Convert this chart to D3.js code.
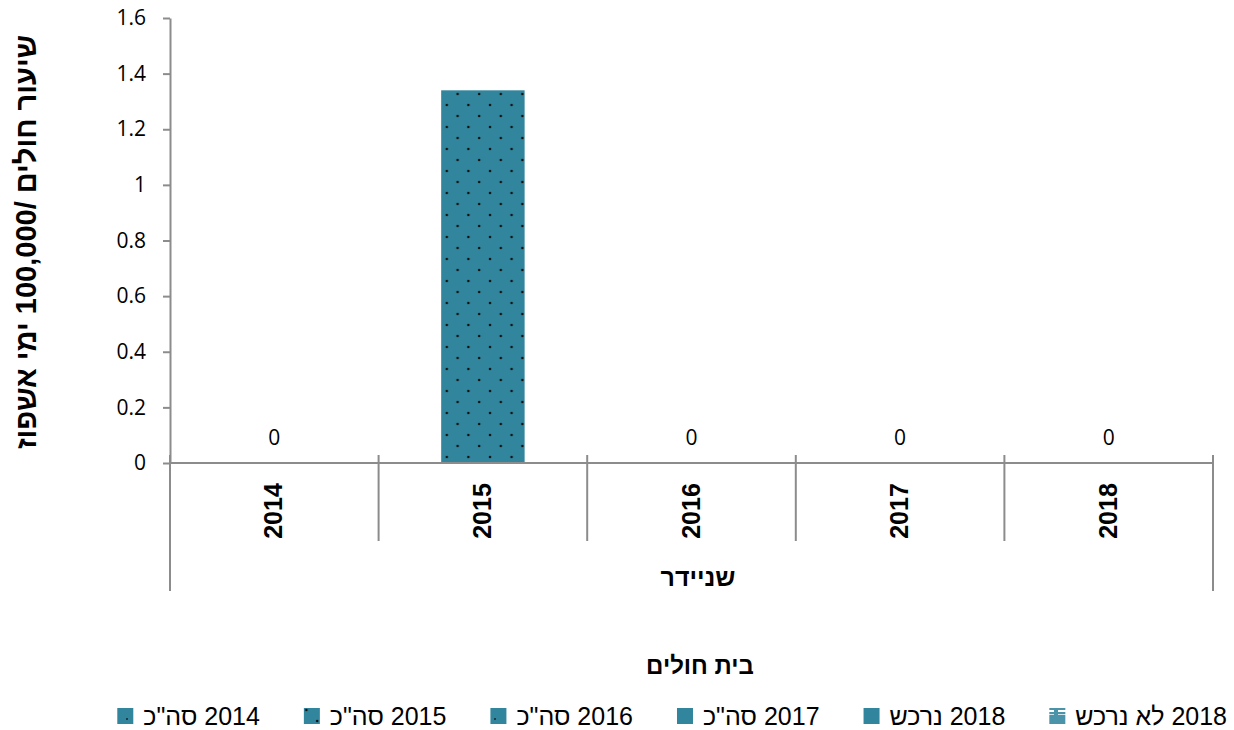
<!DOCTYPE html>
<html>
<head>
<meta charset="utf-8">
<script src="https://cdn.jsdelivr.net/npm/d3@7"></script>
<style>
  body { margin: 0; background: #fff; }
  text { fill: #000; }
</style>
</head>
<body>
<div id="chart"></div>
<script>
const categories = ["2014", "2015", "2016", "2017", "2018"];
const seriesNames = ['2014 סה"כ', '2015 סה"כ', '2016 סה"כ', '2017 סה"כ', '2018 נרכש', '2018 לא נרכש'];
const barSeries = ['2014 סה"כ', '2015 סה"כ', '2016 סה"כ', '2017 סה"כ', '2018 נרכש'];
const values = [0, 1.34, 0, 0, 0];
const valueLabels = ["0", "", "0", "0", "0"];
const yTicks = [0, 0.2, 0.4, 0.6, 0.8, 1, 1.2, 1.4, 1.6];
const groupLabel = "שניידר";
const xTitle = "בית חולים";
const yTitle = "שיעור חולים /100,000 ימי אשפוז";

const W = 1234, H = 730;
const plot = {left: 170, right: 1213, top: 18, bottom: 463};
const axisColor = "#8c8c8c";
const teal = "#31859c";
const sans = "'Liberation Sans', Arial, sans-serif";
const numFont = "'Open Sans', sans-serif";

const svg = d3.select("#chart").append("svg")
    .attr("width", W).attr("height", H);

// patterns
const defs = svg.append("defs");
const dots = defs.append("pattern").attr("id", "dots")
    .attr("patternUnits", "userSpaceOnUse").attr("width", 21.6).attr("height", 22);
dots.append("rect").attr("width", 21.6).attr("height", 22).attr("fill", teal);
dots.append("circle").attr("cx", 4).attr("cy", 6).attr("r", 1.3).attr("fill", "#111");
dots.append("circle").attr("cx", 14.8).attr("cy", 17).attr("r", 1.3).attr("fill", "#111");

const sparse = defs.append("pattern").attr("id", "sparse")
    .attr("patternUnits", "userSpaceOnUse").attr("width", 16).attr("height", 16);
sparse.append("rect").attr("width", 16).attr("height", 16).attr("fill", teal);
sparse.append("rect").attr("x", 14).attr("y", 14).attr("width", 2).attr("height", 2).attr("fill", "#1b3f48");

const stripes = defs.append("pattern").attr("id", "stripes")
    .attr("patternUnits", "userSpaceOnUse").attr("width", 16).attr("height", 16);
stripes.append("rect").attr("width", 16).attr("height", 16).attr("fill", "#4a93a8");
stripes.append("rect").attr("x", 2).attr("y", 6).attr("width", 12).attr("height", 2).attr("fill", "#fff");
stripes.append("rect").attr("x", 2).attr("y", 10).attr("width", 12).attr("height", 1).attr("fill", "#cfe3ea");

const fillFor = {
  '2014 סה"כ': "url(#sparse)",
  '2015 סה"כ': "url(#dots)",
  '2016 סה"כ': "url(#sparse)",
  '2017 סה"כ': teal,
  '2018 נרכש': teal,
  '2018 לא נרכש': "url(#stripes)"
};

const x = d3.scaleBand().domain(categories).range([plot.left, plot.right]).paddingInner(0).paddingOuter(0);
const y = d3.scaleLinear().domain([0, 1.6]).range([plot.bottom, plot.top]);

// y axis
const yAxis = svg.append("g")
    .attr("transform", `translate(${plot.left},0)`)
    .call(d3.axisLeft(y).tickValues(yTicks).tickSize(7).tickSizeOuter(0).tickFormat(d3.format("~g")));
yAxis.select(".domain").attr("stroke", axisColor).attr("stroke-width", 2);
yAxis.selectAll(".tick line").attr("stroke", axisColor).attr("stroke-width", 2);
yAxis.selectAll(".tick text")
    .attr("x", -24)
    .style("font-family", numFont)
    .style("font-size", "21px");

// bars
svg.selectAll("rect.bar")
  .data(categories)
  .enter().append("rect")
    .attr("class", "bar")
    .attr("x", d => x(d) + x.bandwidth() * 0.3)
    .attr("y", (d, i) => y(values[i]))
    .attr("width", x.bandwidth() * 0.4)
    .attr("height", (d, i) => y(0) - y(values[i]))
    .attr("fill", (d, i) => fillFor[barSeries[i]]);

// value labels
svg.selectAll("text.val")
  .data(categories)
  .enter().append("text")
    .attr("class", "val")
    .attr("x", d => x(d) + x.bandwidth() / 2)
    .attr("y", (d, i) => y(values[i]) - 18)
    .attr("text-anchor", "middle")
    .style("font-family", numFont)
    .style("font-size", "21px")
    .text((d, i) => valueLabels[i]);

// x axis line
svg.append("line")
    .attr("x1", plot.left).attr("x2", plot.right)
    .attr("y1", y(0)).attr("y2", y(0))
    .attr("stroke", axisColor).attr("stroke-width", 2);

// category separators
const edges = categories.map(c => x(c)).concat([plot.right]);
svg.selectAll("line.sep")
  .data(edges)
  .enter().append("line")
    .attr("class", "sep")
    .attr("x1", d => d).attr("x2", d => d)
    .attr("y1", y(0) - 8)
    .attr("y2", (d, i) => (i === 0 || i === edges.length - 1) ? 591 : 541)
    .attr("stroke", axisColor).attr("stroke-width", 2);

// category labels
svg.selectAll("text.cat")
  .data(categories)
  .enter().append("text")
    .attr("class", "cat")
    .attr("transform", d => `translate(${x(d) + x.bandwidth() / 2 + 8},511) rotate(-90)`)
    .attr("text-anchor", "middle")
    .style("font-family", sans)
    .style("font-weight", "bold")
    .style("font-size", "25px")
    .text(d => d);

// group label
svg.append("text")
    .attr("x", 698).attr("y", 586)
    .attr("text-anchor", "middle")
    .style("font-family", sans)
    .style("font-weight", "bold")
    .style("font-size", "25px")
    .text(groupLabel);

// x title
svg.append("text")
    .attr("x", 700).attr("y", 674)
    .attr("text-anchor", "middle")
    .style("font-family", sans)
    .style("font-weight", "bold")
    .style("font-size", "24px")
    .text(xTitle);

// y title
svg.append("text")
    .attr("transform", `translate(36,242) rotate(-90)`)
    .attr("text-anchor", "middle")
    .attr("direction", "rtl")
    .style("font-family", sans)
    .style("font-weight", "bold")
    .style("font-size", "29px")
    .text(yTitle);

// legend, laid out right to left
const legend = svg.append("g");
let cursor = 1227;
seriesNames.slice().reverse().forEach(name => {
  const t = legend.append("text")
      .attr("x", cursor).attr("y", 725)
      .attr("text-anchor", "start")
      .attr("direction", "rtl")
      .style("font-family", sans)
      .style("font-size", "25px")
      .text(name);
  const w = t.node().getComputedTextLength();
  legend.append("rect")
      .attr("x", cursor - w - 26).attr("y", 708)
      .attr("width", 16).attr("height", 16)
      .attr("fill", fillFor[name]);
  cursor = cursor - w - 26 - 44;
});
</script>
</body>
</html>
